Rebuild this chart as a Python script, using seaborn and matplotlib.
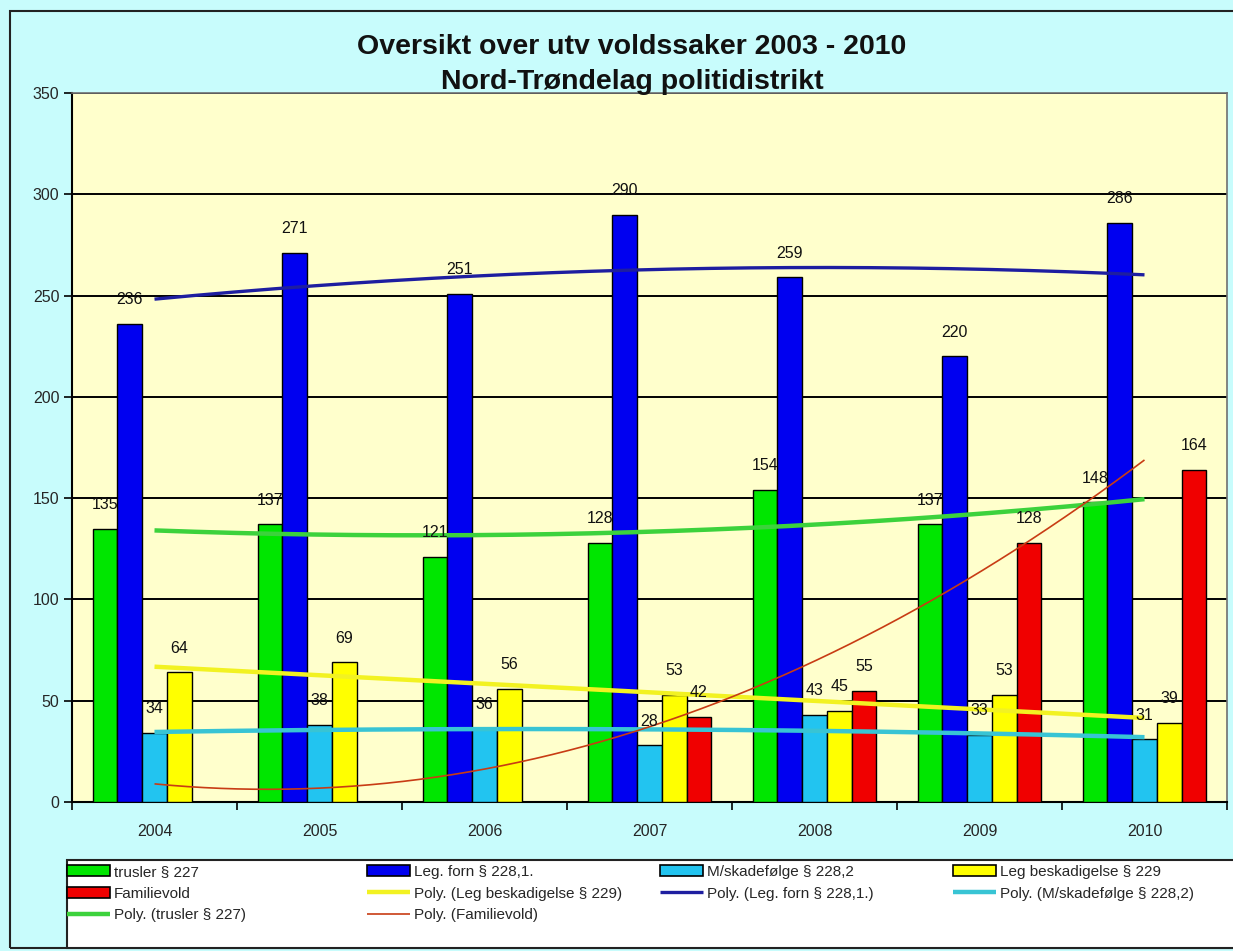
import numpy as np
import pandas as pd
import matplotlib
matplotlib.use("Agg")
import matplotlib.pyplot as plt
import seaborn as sns
from matplotlib.patches import Patch, Rectangle
from matplotlib import font_manager

# ---------------- data ----------------
years = ["2004", "2005", "2006", "2007", "2008", "2009", "2010"]
series_names = ["trusler § 227", "Leg. forn § 228,1.", "M/skadefølge § 228,2",
                "Leg beskadigelse § 229", "Familievold"]
trusler = [135, 137, 121, 128, 154, 137, 148]
leg_forn = [236, 271, 251, 290, 259, 220, 286]
m_skade = [34, 38, 36, 28, 43, 33, 31]
leg_besk = [64, 69, 56, 53, 45, 53, 39]
familievold = [np.nan, np.nan, np.nan, 42, 55, 128, 164]
y_ticks = [0, 50, 100, 150, 200, 250, 300, 350]
title1 = "Oversikt over utv voldssaker 2003 - 2010"
title2 = "Nord-Trøndelag politidistrikt"

bar_colors = ["#00E600", "#0000F0", "#22C4F0", "#FFFF00", "#F00000"]
trend_colors = {"trusler § 227": "#3CD23C", "Leg. forn § 228,1.": "#1E1EA0",
                "M/skadefølge § 228,2": "#38C4D4", "Leg beskadigelse § 229": "#F2F222",
                "Familievold": "#C83C14"}
trend_widths = {"trusler § 227": 3.2, "Leg. forn § 228,1.": 2.4,
                "M/skadefølge § 228,2": 3.2, "Leg beskadigelse § 229": 3.2,
                "Familievold": 1.2}

values = [trusler, leg_forn, m_skade, leg_besk, familievold]
rows = []
for name, vals in zip(series_names, values):
    for yr, v in zip(years, vals):
        rows.append({"year": yr, "series": name, "value": v})
df = pd.DataFrame(rows).dropna()

# ---------------- fonts ----------------
avail = {f.name for f in font_manager.fontManager.ttflist}
fam = "Liberation Sans Narrow" if "Liberation Sans Narrow" in avail else "Liberation Sans"

sns.set_theme(style="white")
plt.rcParams["font.family"] = [fam, "DejaVu Sans"]

W, H = 1233, 951
fig = plt.figure(figsize=(W / 100, H / 100), dpi=100)
fig.patch.set_facecolor("#C8FCFC")

ax = fig.add_axes([72 / W, 1 - 802 / H, (1227 - 72) / W, (802 - 93) / H])
ax.set_facecolor("#FFFFCC")

sns.barplot(data=df, x="year", y="value", hue="series", order=years,
            hue_order=series_names, palette=bar_colors, width=0.75,
            edgecolor="black", linewidth=1.0, errorbar=None, legend=False,
            saturation=1, ax=ax, zorder=3)

# data labels
for cont in ax.containers:
    labels = [f"{b.get_height():.0f}" for b in cont]
    ax.bar_label(cont, labels=labels, padding=12, fontsize=11.5, color="#111111", zorder=6)

# polynomial (order 2) trend lines, like Excel
xs = np.arange(len(years))
xfine = np.linspace(0, len(years) - 1, 300)
handles_trend = {}
for name, vals in zip(series_names, values):
    v = np.array(vals, dtype=float)
    m = ~np.isnan(v)
    coef = np.polyfit(xs[m], v[m], 2)
    ln, = ax.plot(xfine, np.polyval(coef, xfine), color=trend_colors[name],
                  lw=trend_widths[name], zorder=5, solid_capstyle="butt")
    handles_trend[name] = ln

# axes styling
ax.set_xlim(-0.5, len(years) - 0.5)
ax.set_ylim(0, 350)
ax.set_yticks(y_ticks)
ax.set_yticklabels([str(t) for t in y_ticks], fontsize=11.5)
for yv in y_ticks[1:]:
    ax.axhline(yv, color="black", lw=1.4, zorder=1)
ax.set_xticks(np.arange(-0.5, len(years), 1.0))
ax.set_xticklabels([])
ax.set_xticks(xs, minor=True)
ax.set_xticklabels(years, minor=True, fontsize=11.5)
ax.tick_params(axis="x", which="major", length=6, width=1.2, color="black", direction="out", bottom=True)
ax.tick_params(axis="x", which="minor", length=0, pad=16)
ax.tick_params(axis="y", length=6, width=1.2, color="black", direction="out", left=True, pad=3)
ax.set_xlabel("")
ax.set_ylabel("")
for s in ["left", "bottom"]:
    ax.spines[s].set_color("black")
    ax.spines[s].set_linewidth(1.5)
for s in ["top", "right"]:
    ax.spines[s].set_color("#707070")
    ax.spines[s].set_linewidth(1.2)

# titles
fig.text(632 / W, 1 - 47 / H, title1, ha="center", va="center", fontsize=20.5,
         fontweight="bold", color="#111111")
fig.text(632 / W, 1 - 82 / H, title2, ha="center", va="center", fontsize=20.5,
         fontweight="bold", color="#111111", zorder=10)

# outer border
fig.patches.append(Rectangle((10 / W, 1 - 948 / H), 1.2, (948 - 11) / H,
                             transform=fig.transFigure, fill=False,
                             edgecolor="#222222", lw=1.5))
# legend frame
fig.patches.append(Rectangle((67 / W, 1 - 948 / H), 1.2, (948 - 860) / H,
                             transform=fig.transFigure, facecolor="white",
                             edgecolor="#222222", lw=1.5, zorder=1))

# legend, one column at a time (columns placed as in the reference)
bar_h = {n: Patch(facecolor=c, edgecolor="black", lw=1.2) for n, c in zip(series_names, bar_colors)}
poly = lambda n: f"Poly. ({n})"
columns = [
    [(bar_h["trusler § 227"], "trusler § 227"),
     (bar_h["Familievold"], "Familievold"),
     (handles_trend["trusler § 227"], poly("trusler § 227"))],
    [(bar_h["Leg. forn § 228,1."], "Leg. forn § 228,1."),
     (handles_trend["Leg beskadigelse § 229"], poly("Leg beskadigelse § 229")),
     (handles_trend["Familievold"], poly("Familievold"))],
    [(bar_h["M/skadefølge § 228,2"], "M/skadefølge § 228,2"),
     (handles_trend["Leg. forn § 228,1."], poly("Leg. forn § 228,1."))],
    [(bar_h["Leg beskadigelse § 229"], "Leg beskadigelse § 229"),
     (handles_trend["M/skadefølge § 228,2"], poly("M/skadefølge § 228,2"))],
]
col_x = [64, 364, 657, 950]
for cx, col in zip(col_x, columns):
    lg = fig.legend([h for h, _ in col], [l for _, l in col], loc="upper left",
                    bbox_to_anchor=(cx / W, 1 - 862 / H), bbox_transform=fig.transFigure,
                    fontsize=11, frameon=False, handlelength=2.8, handletextpad=0.25,
                    labelspacing=0.5, borderaxespad=0, borderpad=0.2)
    lg.set_zorder(3)

fig.savefig("out.png", dpi=100, facecolor=fig.get_facecolor())
